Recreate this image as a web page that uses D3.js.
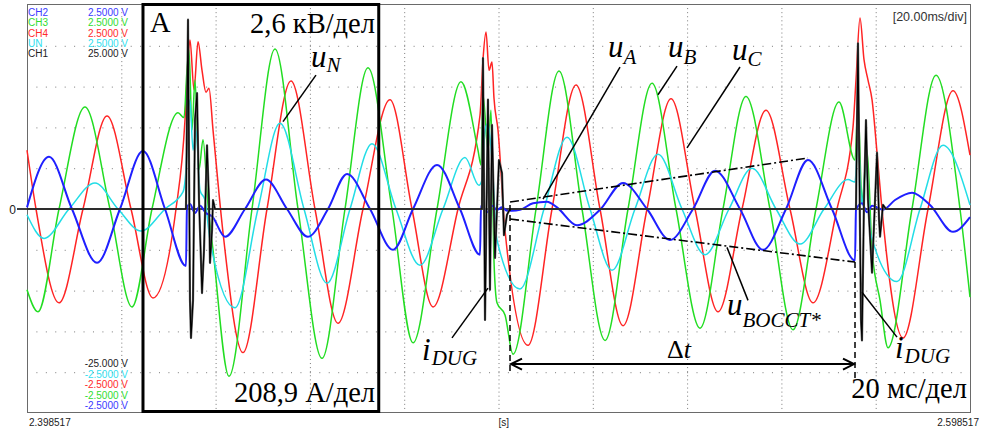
<!DOCTYPE html>
<html><head><meta charset="utf-8">
<script src="https://cdn.jsdelivr.net/npm/d3@7"></script>
<style>
html,body{margin:0;padding:0;background:#fff;}
svg{display:block;}
</style></head><body>
<svg id="chart" width="981" height="430"></svg>
<script>
// ================= DATA =================
const timeStartS = 2.398517;       // s, left edge
const timeSpanMs = 200;            // 10 div x 20 ms
const timeUnit = "[s]";
const timeDivLabel = "[20.00ms/div]";

const channels      = ["CH2", "CH3", "CH4", "UN", "CH1"];
const channelTop    = ["2.5000 V", "2.5000 V", "2.5000 V", "2.5000 V", "25.000 V"];
const bottomOrder   = ["CH1", "UN", "CH4", "CH3", "CH2"];
const channelBottom = ["-25.000 V", "-2.5000 V", "-2.5000 V", "-2.5000 V", "-2.5000 V"];

// [time ms from start, value V]  CH2 (blue, u_A)
const ch2 = [[0,0.02],[4.67,0.64],[9.54,0],[14.85,-0.66],[19.72,0],[24.6,0.71],[29.27,0],[33.72,-0.70],
 [33.93,0.02],[34.57,0.06],[35.63,-0.05],[36.69,0.04],[37.96,-0.05],[39.24,-0.09],[41.99,-0.34],[46.24,0],
 [50.69,0.36],[55.14,0],[59.6,-0.34],[63.84,0],[67.87,0.43],[72.75,0],[77.62,-0.5],[81.87,0],[86.96,0.54],
 [91.83,0],[96.08,-0.56],[96.29,0.04],[97.56,-0.04],[98.62,0.04],[99.68,-0.01],[100.74,0.02],[101.8,-0.02],
 [102.86,-0.02],[104.56,-0.01],[107.32,0.07],[110.29,0.09],[112.41,0.02],[116.65,-0.2],[121.53,-0.01],
 [126.41,0.32],[131.5,0],[136.37,-0.38],[141.25,0],[145.92,0.47],[151.22,0],[156.1,-0.5],[160.98,0],
 [165.64,0.6],[170.73,0],[175.61,-0.63],[175.82,-0.01],[177.09,0.07],[178.16,-0.04],[179.22,0.04],
 [180.28,0.02],[181.55,-0.01],[184.1,0.11],[187.7,0.2],[191.52,0.05],[196.4,-0.28],[200,-0.1]];

// CH3 (green, u_B)
const ch3 = [[0,-0.99],[2.33,-1.26],[6.79,0],[12.3,1.25],[17.6,0],[22.27,-1.2],[26.51,0],[32.03,1.18],
 [33.3,1.12],[33.93,1.7],[34.36,1.95],[35.0,0.97],[35.63,1.58],[36.48,0.48],[37.33,0.85],[38.39,0.05],
 [39.45,-0.5],[42.84,-2.05],[47.72,0],[52.6,1.96],[57.48,0],[62.57,-1.83],[67.44,0],[72.32,1.73],[77.41,0],
 [81.87,-1.64],[86.96,0],[92.05,1.56],[95.65,0.72],[96.29,0.54],[96.71,1.4],[97.77,0.72],[98.41,1.21],
 [99.04,-0.63],[99.68,-1.15],[101.38,-1.3],[103.08,-1.78],[107.96,0],[112.83,1.69],[117.71,0],[122.59,-1.61],
 [127.47,0],[132.56,1.54],[137.65,0],[142.74,-1.46],[147.61,0],[152.49,1.38],[157.58,0],[162.46,-1.48],
 [167.34,0],[172.22,1.31],[175.61,0.6],[176.24,1.27],[177.09,0.11],[178.16,0.72],[179.22,-0.5],[180.92,-1.12],
 [182.61,-1.7],[187.7,0],[192.79,1.64],[197.88,0],[200,-1.08]];

// CH4 (red, u_C)
const ch4 = [[0,0.72],[1.91,0],[6.79,-1.15],[11.88,0],[16.97,1.14],[22.06,0],[26.72,-1.09],[31.6,0],
 [33.51,1.09],[34.15,1.83],[34.57,2.07],[35.42,1.46],[36.27,2.05],[37.12,1.7],[37.96,1.43],[38.6,1.48],
 [39.45,0.97],[41.57,-0.29],[45.81,-1.76],[50.9,0],[55.99,1.57],[61.08,0],[65.96,-1.4],[71.26,0],[76.99,1.34],
 [81.65,0],[86.11,-1.2],[91.41,0],[96.08,1.15],[96.71,1.83],[97.35,2.17],[97.99,1.7],[98.62,1.8],[99.04,1.36],
 [99.89,0.97],[101.38,-0.26],[106.26,-1.67],[111.35,0],[116.44,1.52],[121.53,0],[126.41,-1.43],[131.5,0],
 [136.59,1.35],[141.68,0],[146.56,-1.26],[151.65,0],[156.73,1.21],[161.82,0],[166.7,-1.15],[171.79,0],
 [175.18,1.0],[175.82,1.58],[176.67,2.34],[177.52,1.83],[178.37,1.58],[179.22,1.34],[180.28,0.69],
 [181.34,-0.01],[185.8,-1.58],[191.1,0],[196.4,1.45],[200,0.66]];

// UN (cyan, u_N)
const un = [[0,-0.07],[3.61,-0.36],[8.91,0],[14.42,0.32],[19.3,0],[24.18,-0.27],[29.27,0],[33.09,0.21],
 [33.72,0.48],[34.15,1.09],[34.57,1.34],[35.21,0.72],[35.84,0.97],[36.69,0.23],[37.75,0.11],[38.81,-0.38],
 [44.11,-1.21],[48.99,0],[53.66,1.05],[58.75,0],[63.63,-0.91],[68.51,0],[73.17,0.8],[78.26,0],[83.35,-0.69],
 [88.23,0],[92.89,0.63],[95.86,0.29],[96.5,0.36],[97.14,0.97],[97.77,1.05],[98.62,0.6],[99.68,-0.38],
 [104.56,-0.98],[109.65,0],[114.53,0.88],[119.41,0],[124.07,-0.75],[128.95,0],[133.83,0.67],[138.92,0],
 [143.8,-0.56],[148.89,0],[153.77,0.5],[158.86,0],[163.95,-0.43],[169.04,0],[174.13,0.36],[175.61,0.33],
 [176.24,0.85],[177.09,0.05],[177.94,0.54],[179.0,-0.32],[184.52,-0.89],[189.4,0],[194.28,0.78],[200,0.05]];

// CH1 (black, i_DUG) [time ms, current A-scale]
const ch1 = [[0,0],[33.72,0],[34.15,23.2],[34.57,-11.2],[34.78,-15.8],[35.21,-11.2],[35.63,10.9],[36.06,14.2],
 [36.48,1.1],[37.12,-10.3],[37.54,-5.0],[38.18,7.8],[38.6,1.1],[38.81,-6.6],[39.24,-2.6],[39.45,1.1],[39.87,0],
 [96.5,0],[96.71,18.5],[97.14,-13.6],[97.77,13.4],[98.19,-9.9],[98.62,10.3],[99.26,-6.0],[100.1,6.0],
 [100.74,4.4],[101.16,-3.2],[101.8,-0.7],[102.44,0],
 [175.82,0],[176.24,20.3],[176.88,-13.6],[177.09,-16.1],[177.52,1.1],[177.94,10.9],[178.37,1.1],[179.22,-7.8],
 [179.86,1.1],[180.28,6.9],[180.71,-1.3],[180.92,-3.4],[181.55,0.5],[182.19,0],[200,0]];

// annotations (data coordinates: ms, V)
const boxA = {t0: 24.6, t1: 74.6};
const leaders = [
  [[61.29,1.64],[54.30,1.07]],   // u_N
  [[125.77,1.74],[109.44,0.12]], // u_A
  [[137.86,1.75],[133.83,1.40]], // u_B
  [[151.22,1.74],[139.98,0.75]], // u_C
  [[90.14,-1.58],[97.77,-0.97]], // i_DUG
  [[184.52,-1.57],[177.09,-1.02]], // i_DUG
  [[152.92,-1.12],[148.46,-0.47]]  // u_BOCCT*
];
const envelopeUpper = [[102.44,0.086],[165.64,0.625]];
const envelopeLower = [[102.44,-0.123],[175.61,-0.65]];
const dashedMarks = [[[102.44,0.05],[102.44,-2.0]],[[175.61,-0.65],[175.61,-2.12]]];
const deltaArrow = {t0: 102.44, t1: 175.61, v: -1.90};

const italicLabels = [
  {t:60.23, v:1.74, main:"u", sub:"N", dy:5},
  {t:123.23, v:1.86, main:"u", sub:"A", dy:7},
  {t:135.95, v:1.86, main:"u", sub:"B", dy:7},
  {t:149.52, v:1.83, main:"u", sub:"C", dy:6},
  {t:83.78, v:-1.85, main:"i", sub:"DUG", dy:5},
  {t:184.09, v:-1.83, main:"i", sub:"DUG", dy:5},
  {t:148.46, v:-1.30, main:"u", sub:"BOCCT*", dy:12}
];
const plainLabels = [
  {t:26.09, v:2.17, text:"A", anchor:"start"},
  {t:73.81, v:2.16, text:"2,6 кВ/дел", anchor:"end"},
  {t:73.81, v:-2.37, text:"208,9 А/дел", anchor:"end"},
  {t:199.36, v:-2.32, text:"20 мс/дел", anchor:"end"}
];
const deltaLabel = {t:135.74, v:-1.83};

// ================= DRAW =================
const svg = d3.select("#chart");
const plot = {left:27, right:970, top:5, bottom:413};
const x  = d3.scaleLinear().domain([0, timeSpanMs]).range([plot.left, plot.right]);
const yV = d3.scaleLinear().domain([-2.5, 2.5]).range([plot.bottom, plot.top]);
const yA = d3.scaleLinear().domain([-25, 25]).range([plot.bottom, plot.top]);

const colors = {CH2:"#1f1fff", CH3:"#22dd22", CH4:"#ff2424", UN:"#22dde6", CH1:"#000000"};
const textColors = {CH2:"#3a3aff", CH3:"#30dd30", CH4:"#ff2a2a", UN:"#30e0f0", CH1:"#222222"};
const sans = "'Liberation Sans', Arial, sans-serif";
const serif = "'Liberation Serif', 'Times New Roman', serif";

// grid (axes)
const gx = svg.append("g").attr("transform", `translate(0,${plot.bottom})`)
  .call(d3.axisBottom(x).tickValues(d3.range(20, timeSpanMs, 20)).tickSize(-(plot.bottom - plot.top)).tickFormat(""));
gx.select(".domain").remove();
gx.selectAll(".tick line").attr("stroke", "#7a7a7a").attr("stroke-dasharray", "1,3.08");

const gy = svg.append("g").attr("transform", `translate(${plot.left},0)`)
  .call(d3.axisLeft(yV).tickValues([-2,-1.5,-1,-0.5,0.5,1,1.5,2]).tickSize(-(plot.right - plot.left)).tickFormat(""));
gy.select(".domain").remove();
gy.selectAll(".tick line").attr("stroke", "#7a7a7a").attr("stroke-dasharray", "1,8.43").attr("stroke-dashoffset", "-9.4");

// border
svg.append("rect").attr("x", plot.left + 0.5).attr("y", plot.top - 0.5)
  .attr("width", plot.right - plot.left).attr("height", plot.bottom - plot.top)
  .attr("fill", "none").attr("stroke", "#6a6a6a").attr("stroke-width", 1);

// zero line
svg.append("line").attr("x1", 17).attr("x2", plot.right).attr("y1", yV(0)).attr("y2", yV(0))
  .attr("stroke", "#000").attr("stroke-width", 1.4);
svg.append("text").attr("x", 16).attr("y", yV(0) + 4.5).attr("text-anchor", "end")
  .attr("font-family", sans).attr("font-size", 12).attr("fill", "#222").text("0");

// traces
const lineV = d3.line().x(d => x(d[0])).y(d => yV(d[1])).curve(d3.curveMonotoneX);
const lineA = d3.line().x(d => x(d[0])).y(d => yA(d[1])).curve(d3.curveLinear);
const traces = [
  {id:"CH4", data:ch4, w:1.5},
  {id:"CH3", data:ch3, w:1.5},
  {id:"UN",  data:un,  w:1.5},
  {id:"CH2", data:ch2, w:2}
];
traces.forEach(s => {
  svg.append("path").datum(s.data).attr("d", lineV).attr("fill", "none")
    .attr("stroke", colors[s.id]).attr("stroke-width", s.w).attr("stroke-linejoin", "round");
});
svg.append("path").datum(ch1).attr("d", lineA).attr("fill", "none")
  .attr("stroke", "#5a5a5a").attr("stroke-width", 2.2).attr("stroke-linejoin", "round");
svg.append("path").datum(ch1).attr("d", lineA).attr("fill", "none")
  .attr("stroke", "#000").attr("stroke-width", 1.1).attr("stroke-linejoin", "round");

// box A
svg.append("rect").attr("x", x(boxA.t0)).attr("y", plot.top - 0.5)
  .attr("width", x(boxA.t1) - x(boxA.t0)).attr("height", plot.bottom - plot.top - 1)
  .attr("fill", "none").attr("stroke", "#000").attr("stroke-width", 3);

// envelopes and marks
const seg = d3.line().x(d => x(d[0])).y(d => yV(d[1]));
[envelopeUpper, envelopeLower].forEach(e => {
  svg.append("path").attr("d", seg(e)).attr("stroke", "#000").attr("stroke-width", 1.6)
    .attr("fill", "none").attr("stroke-dasharray", "9,3,2,3");
});
dashedMarks.forEach(e => {
  svg.append("path").attr("d", seg(e)).attr("stroke", "#000").attr("stroke-width", 1.5)
    .attr("fill", "none").attr("stroke-dasharray", "6,4");
});
leaders.forEach(e => {
  svg.append("path").attr("d", seg(e)).attr("stroke", "#000").attr("stroke-width", 1.5).attr("fill", "none");
});
// delta-t arrow
const ay = yV(deltaArrow.v), ax0 = x(deltaArrow.t0), ax1 = x(deltaArrow.t1);
svg.append("line").attr("x1", ax0 + 1).attr("x2", ax1 - 1).attr("y1", ay).attr("y2", ay)
  .attr("stroke", "#000").attr("stroke-width", 2);
svg.append("path").attr("d", `M${ax0+12},${ay-5.5} L${ax0+1},${ay} L${ax0+12},${ay+5.5}`)
  .attr("stroke", "#000").attr("stroke-width", 2).attr("fill", "none");
svg.append("path").attr("d", `M${ax1-12},${ay-5.5} L${ax1-1},${ay} L${ax1-12},${ay+5.5}`)
  .attr("stroke", "#000").attr("stroke-width", 2).attr("fill", "none");

// italic labels with subscripts
italicLabels.forEach(l => {
  const isBig = l.sub.length > 3;
  const t = svg.append("text").attr("x", x(l.t)).attr("y", yV(l.v))
    .attr("font-family", serif).attr("font-style", "italic").attr("font-size", 31).attr("fill", "#000");
  t.append("tspan").text(l.main);
  t.append("tspan").attr("font-size", isBig ? 21 : 21).attr("dy", l.dy).attr("dx", l.main === "i" ? 1 : 0).text(l.sub);
});
plainLabels.forEach(l => {
  svg.append("text").attr("x", x(l.t)).attr("y", yV(l.v)).attr("text-anchor", l.anchor)
    .attr("font-family", serif).attr("font-size", 28.5).attr("fill", "#000").text(l.text);
});
const dt = svg.append("text").attr("x", x(deltaLabel.t)).attr("y", yV(deltaLabel.v))
  .attr("font-family", serif).attr("font-size", 26).attr("fill", "#000");
dt.append("tspan").text("Δ");
dt.append("tspan").attr("font-style", "italic").text("t");

// channel labels
const topBase = 15.7, rowH = 10.4;
channels.forEach((c, i) => {
  svg.append("text").attr("x", plot.left + 1).attr("y", topBase + i * rowH)
    .attr("font-family", sans).attr("font-size", 10).attr("fill", textColors[c]).text(c);
  svg.append("text").attr("x", 128).attr("y", topBase + i * rowH).attr("text-anchor", "end")
    .attr("font-family", sans).attr("font-size", 10).attr("fill", textColors[c]).text(channelTop[i]);
});
const botBase = 367.3;
bottomOrder.forEach((c, i) => {
  svg.append("text").attr("x", 128).attr("y", botBase + i * rowH).attr("text-anchor", "end")
    .attr("font-family", sans).attr("font-size", 10).attr("fill", textColors[c]).text(channelBottom[i]);
});

// time labels
const fmt = ms => (timeStartS + ms / 1000).toFixed(6);
svg.append("text").attr("x", x(0) + 2).attr("y", 426).attr("font-family", sans).attr("font-size", 10)
  .attr("fill", "#222").text(fmt(0));
svg.append("text").attr("x", x(timeSpanMs) + 9).attr("y", 426).attr("text-anchor", "end")
  .attr("font-family", sans).attr("font-size", 10).attr("fill", "#222").text(fmt(timeSpanMs));
svg.append("text").attr("x", x(timeSpanMs / 2)).attr("y", 426).attr("font-family", sans).attr("font-size", 10)
  .attr("fill", "#222").text(timeUnit);
svg.append("text").attr("x", plot.right - 3).attr("y", 21).attr("text-anchor", "end")
  .attr("font-family", sans).attr("font-size", 12.5).attr("fill", "#333").text(timeDivLabel);
</script>
</body></html>
